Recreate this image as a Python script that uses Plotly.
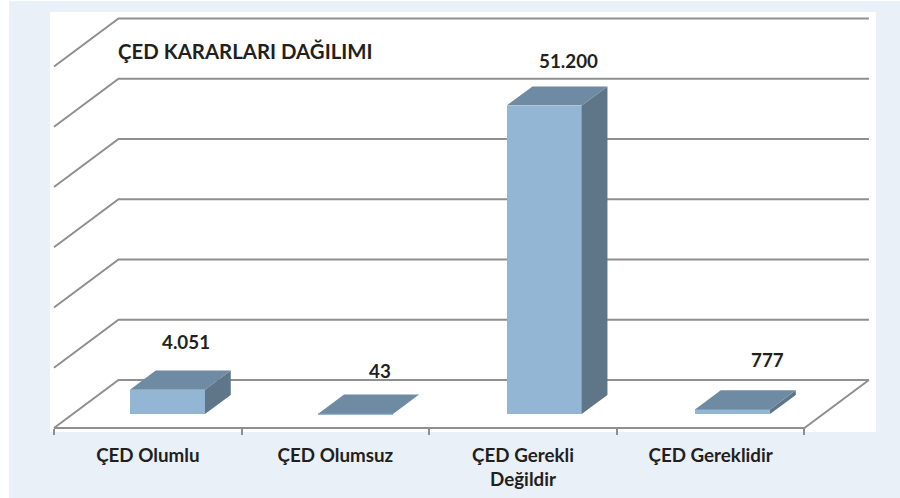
import plotly.graph_objects as go

# --- data ---
categories = ["ÇED Olumlu", "ÇED Olumsuz", "ÇED Gerekli<br>Değildir", "ÇED Gereklidir"]
values = [4051, 43, 51200, 777]
value_labels = ["4.051", "43", "51.200", "777"]
grid_levels = [0, 10000, 20000, 30000, 40000, 50000, 60000]
title_text = "ÇED KARARLARI DAĞILIMI"

# label nudges (pixels) relative to the bar's front top centre
label_dx = [19, 24, 24, 35]
label_dy = [48, 43, 45, 50]

# --- geometry of the fake 3D projection ---
W, H = 900, 498
L, R, T, B = 50, 876, 12, 432      # plot area in page pixels
X0, Y0 = 54, 428                   # page pixel of x=0, value=0, depth=0
UNIT = 187.6                       # px per category
PX_PER_VALUE = 361.5 / 60000
DX = 64.5 / UNIT                   # x shift for full depth
DY = 48.0 / PX_PER_VALUE           # value shift for full depth
D_FRONT, D_BACK = 0.29, 0.69
BAR_W = 0.40
BAR_PITCH = 1.004                  # bars sit slightly wider apart than the ticks
BAR_START = 0.505

x_range = [(L - X0) / UNIT, (R - X0) / UNIT]
y_range = [(Y0 - B) / PX_PER_VALUE, (Y0 - T) / PX_PER_VALUE]

GRID = "#8F8F8F"
FRONT = "#93B6D5"
TOP = "#6F8AA3"
SIDE = "#5F7688"
PANEL = "#E9F0F8"
INK = "#231F20"
FONT = "Lato"


def px(x, d):
    return x + d * DX


def py(v, d):
    return v + d * DY


fig = go.Figure()

# wall / floor lines
n = len(categories)
gx, gy = [], []
for lev in grid_levels:
    gx += [px(0, 0), px(0, 1), px(n, 1), None]
    gy += [py(lev, 0), py(lev, 1), py(lev, 1), None]
gx += [px(0, 0), px(n, 0), px(n, 1), None]
gy += [py(0, 0), py(0, 0), py(0, 1), None]
fig.add_trace(go.Scatter(x=gx, y=gy, mode="lines", line=dict(color=GRID, width=2),
                         hoverinfo="skip", showlegend=False))

# front faces are real bars, on an overlay so they sit above the grid
tick_centers = [i + 0.5 for i in range(n)]
centers = [BAR_START + i * BAR_PITCH for i in range(n)]
fig.add_trace(go.Bar(x=[px(c, D_FRONT) for c in centers], y=values,
                     base=[py(0, D_FRONT)] * n, width=BAR_W,
                     marker=dict(color=FRONT, line=dict(width=0)),
                     xaxis="x2", yaxis="y2", showlegend=False))

# top and side faces
tx, ty, sx, sy = [], [], [], []
for c, v in zip(centers, values):
    a, b = c - BAR_W / 2, c + BAR_W / 2
    tx += [px(a, D_FRONT), px(b, D_FRONT), px(b, D_BACK), px(a, D_BACK), px(a, D_FRONT), None]
    ty += [py(v, D_FRONT), py(v, D_FRONT), py(v, D_BACK), py(v, D_BACK), py(v, D_FRONT), None]
    sx += [px(b, D_FRONT), px(b, D_BACK), px(b, D_BACK), px(b, D_FRONT), px(b, D_FRONT), None]
    sy += [py(0, D_FRONT), py(0, D_BACK), py(v, D_BACK), py(v, D_FRONT), py(0, D_FRONT), None]
for xs, ys, col in ((sx, sy, SIDE), (tx, ty, TOP)):
    fig.add_trace(go.Scatter(x=xs, y=ys, mode="lines", fill="toself", fillcolor=col,
                             line=dict(width=0, color=col), xaxis="x2", yaxis="y2",
                             hoverinfo="skip", showlegend=False))

annotations = [
    dict(xref="paper", yref="paper",
         x=(116 - L) / (R - L), y=(B - 51) / (B - T),
         xanchor="left", yanchor="middle", showarrow=False, text=f"<b>{title_text}</b>",
         font=dict(family=FONT, size=20.4, color=INK))
]
for c, v, lab, dx_, dy_ in zip(centers, values, value_labels, label_dx, label_dy):
    annotations.append(dict(x=px(c, D_FRONT), y=py(v, D_FRONT), xref="x2", yref="y2",
                            xshift=dx_, yshift=dy_, showarrow=False,
                            xanchor="center", yanchor="middle", text=f"<b>{lab}</b>",
                            font=dict(family=FONT, size=18.8, color=INK)))

axis_off = dict(visible=False, showgrid=False, zeroline=False, fixedrange=True, automargin=False)
fig.update_layout(
    width=W, height=H,
    margin=dict(l=L, r=W - R, t=T, b=H - B, pad=0, autoexpand=False),
    paper_bgcolor="white", plot_bgcolor="rgba(0,0,0,0)",
    bargap=0, showlegend=False,
    annotations=annotations,
    shapes=[
        dict(type="rect", xref="paper", yref="paper", layer="below", line_width=0,
             x0=(9 - L) / (R - L), x1=(W - L) / (R - L),
             y0=(B - H) / (B - T), y1=(B - 1) / (B - T), fillcolor=PANEL),
        dict(type="rect", xref="paper", yref="paper", layer="below", line_width=0,
             x0=0, x1=1, y0=0, y1=1, fillcolor="white"),
    ],
    xaxis=dict(range=x_range, anchor="free", position=(B - Y0) / (B - T), automargin=False,
               tickmode="array", tickvals=tick_centers, ticktext=[f"<b>{c}</b>" for c in categories],
               ticks="", showgrid=False, zeroline=False, showline=False, fixedrange=True,
               tickfont=dict(family=FONT, size=18.8, color=INK), ticklabelstandoff=14,
               minor=dict(tickmode="linear", tick0=0, dtick=1, ticks="outside", ticklen=6,
                          tickwidth=1.5, tickcolor=GRID, showgrid=False)),
    yaxis=dict(range=y_range, **axis_off),
    xaxis2=dict(range=x_range, overlaying="x", **axis_off),
    yaxis2=dict(range=y_range, overlaying="y", **axis_off),
)

fig.write_html("out.html", config={"displayModeBar": False},
               post_script="document.body.style.margin='0';document.documentElement.style.overflow='hidden';")
